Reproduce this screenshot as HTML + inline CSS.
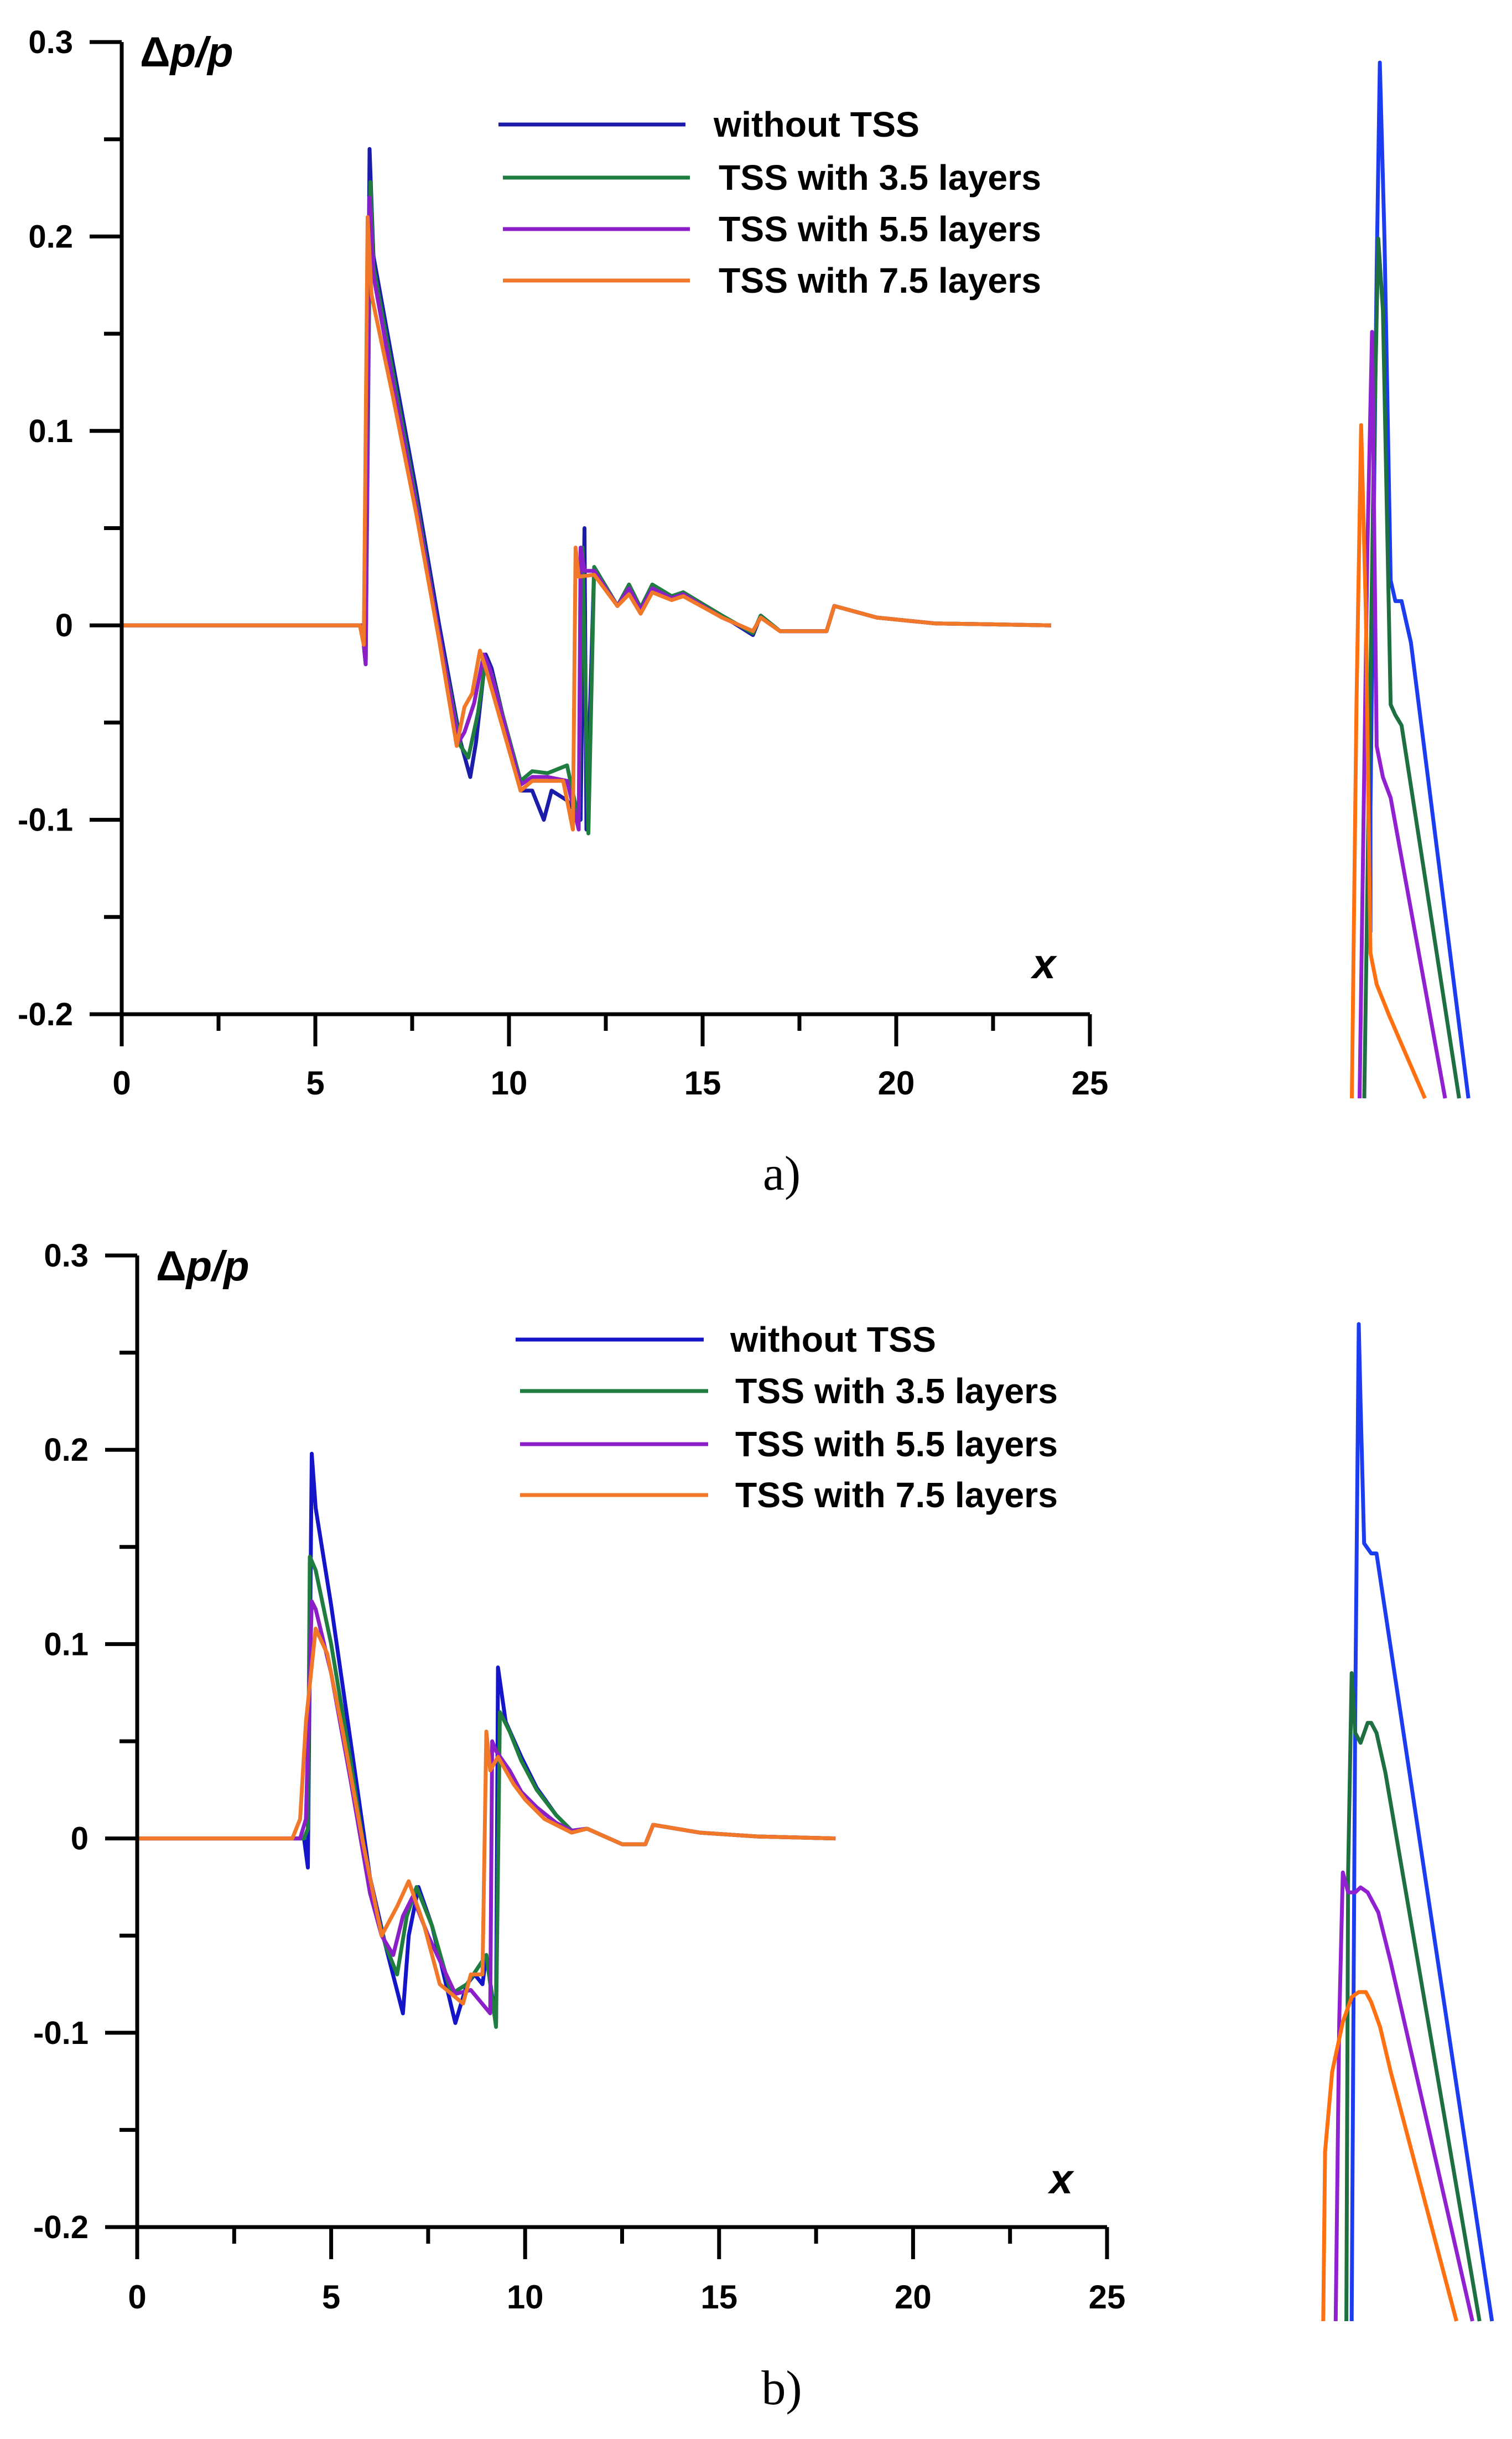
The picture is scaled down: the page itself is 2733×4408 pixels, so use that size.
<!DOCTYPE html>
<html><head><meta charset="utf-8"><style>
html,body{margin:0;padding:0;background:#fff;}
svg{display:block;}
text{font-family:"Liberation Sans",Arial,sans-serif;}
</style></head><body>
<svg id="fig" width="2733" height="4408" viewBox="0 0 2733 4408" xmlns="http://www.w3.org/2000/svg">
<g id="pa"></g>
<g id="pb"></g>
<text x="1413" y="2150" font-size="88" style="font-family:'Liberation Serif',serif" text-anchor="middle">a)</text>
<text x="1413" y="4345" font-size="88" style="font-family:'Liberation Serif',serif" text-anchor="middle">b)</text>
</svg>
<script>
// ---------- data ----------
const seriesNames = ["without TSS","TSS with 3.5 layers","TSS with 5.5 layers","TSS with 7.5 layers"];
const xTicks = [0,5,10,15,20,25];
const yTicks = [-0.2,-0.1,0,0.1,0.2,0.3];
const yTickLabels = ["-0.2","-0.1","0","0.1","0.2","0.3"];

const aBlueX  =[0,6.2,6.3,6.4,6.5,7.0,7.6,8.2,8.75,9.0,9.15,9.4,9.55,10.3,10.6,10.9,11.1,11.5,11.85,11.95,12.0,12.2,12.8,13.1,13.4,13.7,14.2,14.5,15.5,16.3,16.5,17,18.2,18.4,19.5,21,24];
const aBlueY  =[0,0,-0.02,0.245,0.19,0.135,0.07,0.0,-0.06,-0.078,-0.06,-0.015,-0.022,-0.085,-0.085,-0.1,-0.085,-0.09,-0.1,0.05,-0.105,0.03,0.01,0.02,0.008,0.02,0.014,0.017,0.005,-0.005,0.005,-0.003,-0.003,0.01,0.004,0.001,0];
const aGreenX =[0,6.2,6.3,6.42,6.5,7.0,7.6,8.2,8.75,8.95,9.2,9.4,9.55,10.3,10.6,11.0,11.5,11.8,11.9,12.05,12.2,12.8,13.1,13.4,13.7,14.2,14.5,15.5,16.3,16.5,17,18.2,18.4,19.5,21,24];
const aGreenY =[0,0,-0.02,0.228,0.185,0.13,0.065,-0.005,-0.062,-0.068,-0.045,-0.018,-0.025,-0.08,-0.075,-0.076,-0.072,-0.1,0.04,-0.107,0.03,0.01,0.021,0.009,0.021,0.015,0.017,0.005,-0.004,0.005,-0.003,-0.003,0.01,0.004,0.001,0];
const aPurpleX=[0,6.2,6.3,6.4,6.5,7.0,7.6,8.2,8.7,8.85,9.1,9.35,9.5,10.3,10.6,11.0,11.5,11.8,11.85,11.95,12.2,12.8,13.1,13.4,13.7,14.2,14.5,15.5,16.3,16.5,17,18.2,18.4,19.5,21,24];
const aPurpleY=[0,0,-0.02,0.22,0.18,0.125,0.062,-0.005,-0.06,-0.055,-0.04,-0.015,-0.022,-0.082,-0.078,-0.078,-0.08,-0.105,0.04,0.028,0.028,0.01,0.019,0.008,0.019,0.014,0.016,0.004,-0.003,0.004,-0.003,-0.003,0.01,0.004,0.001,0];
const aOrangeX=[0,6.15,6.25,6.35,6.45,7.0,7.6,8.2,8.65,8.85,9.05,9.25,9.4,10.3,10.6,11.0,11.4,11.65,11.72,11.8,12.2,12.8,13.1,13.4,13.7,14.2,14.5,15.5,16.3,16.5,17,18.2,18.4,19.5,21,24];
const aOrangeY=[0,0,-0.01,0.21,0.17,0.118,0.058,-0.008,-0.062,-0.042,-0.035,-0.013,-0.022,-0.085,-0.08,-0.08,-0.08,-0.105,0.04,0.025,0.026,0.01,0.016,0.006,0.017,0.013,0.015,0.004,-0.003,0.004,-0.003,-0.003,0.01,0.004,0.001,0];

const bBlueX  =[0,4.3,4.4,4.5,4.6,5.0,5.5,6.0,6.4,6.85,7.0,7.25,7.6,8.2,8.5,8.7,8.9,9.0,9.25,9.3,9.5,9.9,10.3,10.8,11.2,11.6,12.5,13.1,13.3,14.5,16,18];
const bBlueY  =[0,0,-0.015,0.198,0.17,0.12,0.05,-0.02,-0.055,-0.09,-0.05,-0.025,-0.045,-0.095,-0.075,-0.07,-0.075,-0.06,-0.095,0.088,0.06,0.042,0.026,0.012,0.004,0.005,-0.003,-0.003,0.007,0.003,0.001,0];
const bGreenX =[0,4.3,4.4,4.45,4.6,5.0,5.5,6.0,6.4,6.7,6.95,7.2,7.6,8.1,8.5,9.0,9.25,9.35,9.6,9.9,10.3,10.8,11.2,11.6,12.5,13.1,13.3,14.5,16,18];
const bGreenY =[0,0,0.005,0.145,0.138,0.1,0.04,-0.025,-0.055,-0.07,-0.04,-0.025,-0.045,-0.08,-0.075,-0.06,-0.097,0.065,0.055,0.04,0.025,0.012,0.004,0.005,-0.003,-0.003,0.007,0.003,0.001,0];
const bPurpleX=[0,4.2,4.35,4.5,4.6,5.0,5.5,6.0,6.3,6.6,6.85,7.1,7.5,8.2,8.6,9.1,9.15,9.25,9.6,9.9,10.3,10.8,11.2,11.6,12.5,13.1,13.3,14.5,16,18];
const bPurpleY=[0,0,0.01,0.122,0.118,0.085,0.03,-0.028,-0.05,-0.06,-0.04,-0.03,-0.05,-0.08,-0.078,-0.09,0.05,0.045,0.035,0.024,0.016,0.008,0.004,0.005,-0.003,-0.003,0.007,0.003,0.001,0];
const bOrangeX=[0,4.0,4.2,4.35,4.6,4.9,5.3,5.8,6.3,6.7,7.0,7.4,7.8,8.4,8.6,8.9,9.0,9.1,9.3,9.7,10.0,10.5,11.2,11.6,12.5,13.1,13.3,14.5,16,18];
const bOrangeY=[0,0,0.01,0.06,0.108,0.095,0.055,0.0,-0.05,-0.035,-0.022,-0.045,-0.075,-0.085,-0.07,-0.07,0.055,0.035,0.042,0.028,0.02,0.01,0.003,0.005,-0.003,-0.003,0.007,0.003,0.001,0];

// zoomed inset traces (arbitrary units: u horizontal 0..100, v vertical 0..100)
const iaBlueU=[20,20,24,26,29,33,36,40,46,83];
const iaBlueV=[16,28,80,100,83,50,48,48,44,0];
const iaGreenU=[16,22,25,28,33,36,40,77];
const iaGreenV=[0,61,83,76,38,37,36,0];
const iaPurpleU=[13,18,21,24,28,33,68];
const iaPurpleV=[0,53,74,34,31,29,0];
const iaOrangeU=[8,11,14,17,20,24,32,55];
const iaOrangeV=[0,38,65,47,14,11,8,0];

const ibBlueU=[20,22,24,25,27,31,34,99];
const ibBlueV=[0,61,100,92,78,77,77,0];
const ibGreenU=[17,18,20,22,25,27,29,31,34,39,92];
const ibGreenV=[0,45,65,59,58,59,60,60,59,55,0];
const ibPurpleU=[11,13,15,18,22,25,29,32,35,42,88];
const ibPurpleV=[0,30,45,43,43,43.5,43,42,41,36,0];
const ibOrangeU=[4,5,9,15,20,24,28,31,36,42,79];
const ibOrangeV=[0,17,25,30,32.5,33,33,32,29.5,25,0];

// ---------- drawing ----------
const NS="http://www.w3.org/2000/svg";
function mk(parent,tag,attrs){const e=document.createElementNS(NS,tag);for(const k in attrs)e.setAttribute(k,attrs[k]);parent.appendChild(e);return e;}

function drawPanel(g,cfg){
  const sx=v=>cfg.x0+(v-0)/25*(cfg.x25-cfg.x0);
  const sy=v=>cfg.yTop+(0.3-v)/0.5*(cfg.yBot-cfg.yTop);
  cfg.series.forEach((s,i)=>{
    const pts=s.x.map((xv,j)=>sx(xv).toFixed(1)+","+sy(s.y[j]).toFixed(1)).join(" ");
    const pl=mk(g,"polyline",{points:pts,fill:"none",stroke:s.c,"stroke-width":7,"stroke-linejoin":"round"});
    
    
  });
  const ax=mk(g,"path",{d:`M${cfg.x0},${cfg.yTop} V${cfg.yBot} H${cfg.x25}`,fill:"none",stroke:"#000","stroke-width":7});
  
  
  for(let v=-0.2;v<=0.3001;v+=0.05){
    const major=Math.abs(Math.round(v*10)-v*10)<1e-6;
    const t=mk(g,"line",{x1:cfg.x0-(major?58:32),x2:cfg.x0,y1:sy(v),y2:sy(v),stroke:"#000","stroke-width":7});
    
    
  }
  yTicks.forEach((v,i)=>{
    const t=mk(g,"text",{x:cfg.ylx,y:sy(v)+20,"font-size":58,"font-weight":"bold","text-anchor":"end"});
    t.textContent=yTickLabels[i];
    
    
  });
  for(let v=0;v<=25;v+=2.5){
    const major=v%5===0;
    const t=mk(g,"line",{x1:sx(v),x2:sx(v),y1:cfg.yBot,y2:cfg.yBot+(major?58:30),stroke:"#000","stroke-width":7});
    
    
  }
  xTicks.forEach(v=>{
    const t=mk(g,"text",{x:sx(v),y:cfg.xly,"font-size":60,"font-weight":"bold","text-anchor":"middle"});
    t.textContent=String(v);
    
    
  });
  const yt=mk(g,"text",{x:cfg.ytx,y:cfg.yty,"font-size":76,"font-weight":"bold"});
  yt.innerHTML='Δ<tspan font-style="italic">p/p</tspan>';
  
  
  const xt=mk(g,"text",{x:cfg.xtx,y:cfg.xty,"font-size":76,"font-weight":"bold","font-style":"italic"});
  xt.textContent="x";
  
  
  const lg=mk(g,"g",{});
  
  
  cfg.series.forEach((s,i)=>{
    const y=cfg.legY[i];
    const ln=mk(lg,"line",{x1:cfg.legX1+(i?8:0),x2:cfg.legX2+(i?8:0),y1:y,y2:y,stroke:s.c,"stroke-width":7});
    
    
    const tx=mk(lg,"text",{x:cfg.legTX+(i?9:0),y:y+22,"font-size":64,"font-weight":"bold",textLength:(i?583:372),lengthAdjust:"spacingAndGlyphs"});
    tx.textContent=seriesNames[i];
    
    
  });
  const ix=u=>cfg.ix0+u/100*(cfg.ix1-cfg.ix0);
  const iy=v=>cfg.iy1-v/100*(cfg.iy1-cfg.iy0);
  const ig=mk(g,"g",{});
  
  
  cfg.inset.forEach(s=>{
    const n=Math.min(s.u.length,s.v.length);
    const pts=[];for(let j=0;j<n;j++)pts.push(ix(s.u[j]).toFixed(1)+","+iy(s.v[j]).toFixed(1));
    const pl=mk(ig,"polyline",{points:pts.join(" "),fill:"none",stroke:s.c,"stroke-width":7,"stroke-linejoin":"round"});
    
    
  });
}

drawPanel(document.getElementById("pa"),{
  x0:220,x25:1970,yTop:76,yBot:1833,ylx:132,xly:1978,
  ytx:253,yty:120,xtx:1866,xty:1768,
  legX1:901,legX2:1239,legTX:1290,legY:[225,321,414,507],
  series:[
    {key:"without-tss",c:"#1c1caa",x:aBlueX,y:aBlueY},
    {key:"tss-3-5",c:"#1f7d40",x:aGreenX,y:aGreenY},
    {key:"tss-5-5",c:"#8c1ec8",x:aPurpleX,y:aPurpleY},
    {key:"tss-7-5",c:"#f07828",x:aOrangeX,y:aOrangeY}],
  ix0:2421,ix1:2702,iy0:113,iy1:1985,
  inset:[
    {key:"without-tss",c:"#1c3cf0",u:iaBlueU,v:iaBlueV},
    {key:"tss-3-5",c:"#1f7040",u:iaGreenU,v:iaGreenV},
    {key:"tss-5-5",c:"#9020d0",u:iaPurpleU,v:iaPurpleV},
    {key:"tss-7-5",c:"#ff7010",u:iaOrangeU,v:iaOrangeV}]
});
drawPanel(document.getElementById("pb"),{
  x0:248,x25:2001,yTop:2269,yBot:4025,ylx:160,xly:4172,
  ytx:282,yty:2314,xtx:1897,xty:3964,
  legX1:932,legX2:1272,legTX:1320,legY:[2421,2514,2610,2702],
  series:[
    {key:"without-tss",c:"#1414c8",x:bBlueX,y:bBlueY},
    {key:"tss-3-5",c:"#1f7d40",x:bGreenX,y:bGreenY},
    {key:"tss-5-5",c:"#8c1ec8",x:bPurpleX,y:bPurpleY},
    {key:"tss-7-5",c:"#f07828",x:bOrangeX,y:bOrangeY}],
  ix0:2379,ix1:2700,iy0:2393,iy1:4195,
  inset:[
    {key:"without-tss",c:"#1c3cf0",u:ibBlueU,v:ibBlueV},
    {key:"tss-3-5",c:"#1f7040",u:ibGreenU,v:ibGreenV},
    {key:"tss-5-5",c:"#9020d0",u:ibPurpleU,v:ibPurpleV},
    {key:"tss-7-5",c:"#ff7010",u:ibOrangeU,v:ibOrangeV}]
});
</script>
</body></html>
